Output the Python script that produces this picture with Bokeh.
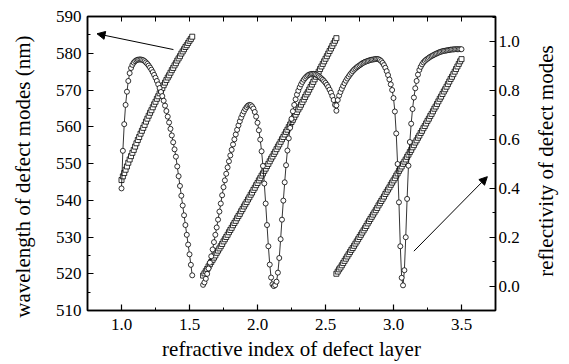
from bokeh.plotting import figure
from bokeh.layouts import row
from bokeh.models import (Range1d, LinearAxis, SingleIntervalTicker, FixedTicker,
                          PrintfTickFormatter, Arrow, NormalHead)
from bokeh.core.properties import value
from bokeh.embed import file_html
from bokeh.resources import INLINE

# ---------------- data ----------------
# refractive index grid of each branch: start value, step 0.01
n_start_A = 1.00
n_start_B = 1.60
n_start_C = 2.58
n_step = 0.01

# wavelength of defect modes (nm) -- squares
lam_A = [545.5, 546.5, 547.4, 548.3, 549.2, 550.2, 551.1, 552.0, 552.9, 553.7,
         554.6, 555.5, 556.4, 557.2, 558.1, 558.9, 559.7, 560.5, 561.4, 562.2,
         563.0, 563.8, 564.5, 565.3, 566.1, 566.8, 567.6, 568.3, 569.1, 569.8,
         570.5, 571.3, 572.0, 572.7, 573.4, 574.0, 574.7, 575.4, 576.0, 576.7,
         577.3, 578.0, 578.6, 579.2, 579.9, 580.5, 581.1, 581.7, 582.2, 582.8,
         583.4, 583.9, 584.5]
lam_B = [519.5, 520.1, 520.7, 521.3, 522.0, 522.6, 523.2, 523.8, 524.4, 525.0,
         525.7, 526.3, 526.9, 527.5, 528.1, 528.8, 529.4, 530.0, 530.6, 531.3,
         531.9, 532.5, 533.2, 533.8, 534.4, 535.1, 535.7, 536.3, 537.0, 537.6,
         538.3, 538.9, 539.5, 540.2, 540.8, 541.5, 542.1, 542.8, 543.4, 544.1,
         544.7, 545.4, 546.0, 546.7, 547.3, 548.0, 548.6, 549.3, 549.9, 550.6,
         551.3, 551.9, 552.6, 553.2, 553.9, 554.6, 555.2, 555.9, 556.6, 557.2,
         557.9, 558.6, 559.2, 559.9, 560.6, 561.3, 561.9, 562.6, 563.3, 564.0,
         564.7, 565.3, 566.0, 566.7, 567.4, 568.1, 568.8, 569.4, 570.1, 570.8,
         571.5, 572.2, 572.9, 573.6, 574.3, 575.0, 575.7, 576.4, 577.1, 577.8,
         578.5, 579.2, 579.9, 580.6, 581.3, 582.0, 582.7, 583.4, 584.1]
lam_C = [520.0, 520.6, 521.2, 521.7, 522.3, 522.9, 523.5, 524.1, 524.7, 525.3,
         525.9, 526.5, 527.0, 527.6, 528.2, 528.8, 529.4, 530.0, 530.6, 531.2,
         531.8, 532.4, 533.0, 533.7, 534.3, 534.9, 535.5, 536.1, 536.7, 537.3,
         537.9, 538.6, 539.2, 539.8, 540.4, 541.0, 541.7, 542.3, 542.9, 543.5,
         544.2, 544.8, 545.4, 546.0, 546.7, 547.3, 548.0, 548.6, 549.2, 549.9,
         550.5, 551.1, 551.8, 552.4, 553.1, 553.7, 554.4, 555.0, 555.7, 556.3,
         557.0, 557.6, 558.3, 558.9, 559.6, 560.2, 560.9, 561.6, 562.2, 562.9,
         563.5, 564.2, 564.9, 565.5, 566.2, 566.9, 567.6, 568.2, 568.9, 569.6,
         570.2, 570.9, 571.6, 572.3, 573.0, 573.6, 574.3, 575.0, 575.7, 576.4,
         577.1, 577.8, 578.4]

# reflectivity of defect modes -- circles
refl_A = [0.400, 0.554, 0.663, 0.742, 0.796, 0.840, 0.872, 0.893, 0.906, 0.915,
          0.921, 0.925, 0.927, 0.928, 0.928, 0.927, 0.925, 0.921, 0.916, 0.910,
          0.903, 0.895, 0.886, 0.876, 0.865, 0.853, 0.840, 0.826, 0.811, 0.795,
          0.778, 0.759, 0.739, 0.717, 0.694, 0.670, 0.644, 0.617, 0.589, 0.560,
          0.530, 0.490, 0.450, 0.410, 0.370, 0.330, 0.290, 0.250, 0.210, 0.170,
          0.130, 0.087, 0.044]
refl_B = [0.005, 0.015, 0.030, 0.050, 0.072, 0.096, 0.122, 0.150, 0.180, 0.210,
          0.240, 0.272, 0.305, 0.338, 0.372, 0.405, 0.433, 0.460, 0.486, 0.511,
          0.535, 0.558, 0.580, 0.601, 0.621, 0.640, 0.658, 0.675, 0.690, 0.703,
          0.715, 0.725, 0.733, 0.739, 0.742, 0.741, 0.736, 0.727, 0.713, 0.694,
          0.669, 0.638, 0.600, 0.552, 0.492, 0.420, 0.338, 0.250, 0.163, 0.088,
          0.035, 0.007, 0.000, 0.004, 0.018, 0.055, 0.115, 0.192, 0.272, 0.350,
          0.425, 0.495, 0.555, 0.605, 0.648, 0.685, 0.716, 0.742, 0.765, 0.784,
          0.800, 0.814, 0.826, 0.836, 0.845, 0.852, 0.858, 0.863, 0.866, 0.868,
          0.869, 0.869, 0.868, 0.866, 0.863, 0.859, 0.855, 0.850, 0.845, 0.839,
          0.832, 0.824, 0.815, 0.804, 0.792, 0.778, 0.762, 0.742, 0.718]
refl_C = [0.740, 0.762, 0.780, 0.795, 0.808, 0.820, 0.831, 0.841, 0.850, 0.858,
          0.866, 0.873, 0.880, 0.886, 0.891, 0.896, 0.900, 0.904, 0.908, 0.912,
          0.915, 0.918, 0.920, 0.922, 0.924, 0.926, 0.927, 0.928, 0.929, 0.930,
          0.930, 0.929, 0.926, 0.921, 0.914, 0.905, 0.894, 0.880, 0.864, 0.846,
          0.826, 0.803, 0.770, 0.715, 0.625, 0.500, 0.343, 0.163, 0.034, 0.003,
          0.065, 0.200, 0.357, 0.493, 0.590, 0.665, 0.725, 0.772, 0.810, 0.840,
          0.866, 0.885, 0.898, 0.908, 0.916, 0.922, 0.927, 0.931, 0.935, 0.939,
          0.942, 0.945, 0.948, 0.951, 0.953, 0.956, 0.958, 0.960, 0.962, 0.963,
          0.964, 0.965, 0.966, 0.967, 0.968, 0.969, 0.969, 0.970, 0.970, 0.970,
          0.970, 0.970, 0.970]

x_label = "refractive index of defect layer"
y_label_left = "wavelength of defect modes (nm)"
y_label_right = "reflectivity of defect modes"
top_tick_positions = [1.0, 1.25, 1.5, 1.75, 2.0, 2.25, 2.5, 2.75, 3.0, 3.25, 3.5]


def grid(start, count):
    return [round(start + n_step * i, 2) for i in range(count)]


FONT = "Liberation Serif"
NBSP = "\u00a0"
H = 363

p = figure(width=525, height=H, x_range=Range1d(0.75, 3.75), y_range=Range1d(510, 590),
           output_backend="svg", toolbar_location=None,
           min_border_left=87, min_border_right=30, min_border_top=16, min_border_bottom=52,
           background_fill_color="white", border_fill_color="white")
p.extra_y_ranges = {"refl": Range1d(-0.1, 1.104)}
p.xgrid.visible = False
p.ygrid.visible = False
p.outline_line_color = "black"
p.outline_line_width = 1.5


def style(ax):
    ax.axis_line_color = "black"
    ax.axis_line_width = 1.5
    ax.major_tick_in = 6
    ax.major_tick_out = 0
    ax.minor_tick_in = 3
    ax.minor_tick_out = 0
    ax.major_tick_line_width = 1.2
    ax.minor_tick_line_width = 1
    ax.major_tick_line_color = "black"
    ax.minor_tick_line_color = "black"
    ax.major_label_text_font = FONT
    ax.major_label_text_color = "black"
    ax.major_label_text_font_size = "17px"
    ax.axis_label_text_font = FONT
    ax.axis_label_text_font_size = "21px"
    ax.axis_label_text_font_style = "normal"
    ax.axis_label_text_color = "black"


xb = p.xaxis[0]
xb.ticker = SingleIntervalTicker(interval=0.5, num_minor_ticks=2)
xb.formatter = PrintfTickFormatter(format="%.1f")
xb.axis_label = x_label
style(xb)
xb.major_label_standoff = 8
xb.axis_label_standoff = 4

yl = p.yaxis[0]
yl.ticker = SingleIntervalTicker(interval=10, num_minor_ticks=2)
# trailing no-break spaces shift the centred title slightly down, as in the original
yl.axis_label = y_label_left + NBSP * 5
style(yl)
yl.major_label_standoff = 6
yl.axis_label_standoff = 18

yr = LinearAxis(y_range_name="refl",
                ticker=SingleIntervalTicker(interval=0.2, num_minor_ticks=2),
                formatter=PrintfTickFormatter(format="%.1f"))
style(yr)
yr.major_label_standoff = 3
p.add_layout(yr, "right")

# top frame edge: ticks only, no labels
xt = LinearAxis(ticker=FixedTicker(ticks=[], minor_ticks=top_tick_positions))
style(xt)
xt.minor_tick_in = 5
p.add_layout(xt, "above")

for start, lam, refl in ((n_start_A, lam_A, refl_A),
                         (n_start_B, lam_B, refl_B),
                         (n_start_C, lam_C, refl_C)):
    nl = grid(start, len(lam))
    nr = grid(start, len(refl))
    p.scatter(nl, lam, marker="square", size=5, fill_color="white",
              line_color="black", line_width=0.8)
    p.line(nr, refl, y_range_name="refl", line_color="black", line_width=0.8)
    p.scatter(nr, refl, y_range_name="refl", marker="circle", size=5,
              fill_color="white", line_color="black", line_width=0.8)

p.add_layout(Arrow(end=NormalHead(size=8, fill_color="black", line_color="black", line_width=1),
                   x_start=1.382, y_start=581.0, x_end=0.82, y_end=585.3,
                   line_color="black", line_width=1))
p.add_layout(Arrow(end=NormalHead(size=8, fill_color="black", line_color="black", line_width=1),
                   x_start=3.15, y_start=0.143, x_end=3.69, y_end=0.448,
                   y_range_name="refl", line_color="black", line_width=1))

# narrow strip on the right carrying the right-axis title (reads bottom to top)
W2 = 43
q = figure(width=W2, height=H, x_range=Range1d(0, W2), y_range=Range1d(0, H),
           output_backend="svg", toolbar_location=None, min_border=0,
           background_fill_color="white", border_fill_color="white")
q.axis.visible = False
q.xgrid.visible = False
q.ygrid.visible = False
q.outline_line_color = None
q.text(x=[20], y=[H - 178.5], text=[y_label_right], angle=90, angle_units="deg",
       text_align="center", text_baseline="middle", text_font=value(FONT),
       text_font_size="21px", text_color="black")

layout = row(p, q)
open("out.html", "w").write(file_html(layout, INLINE))
